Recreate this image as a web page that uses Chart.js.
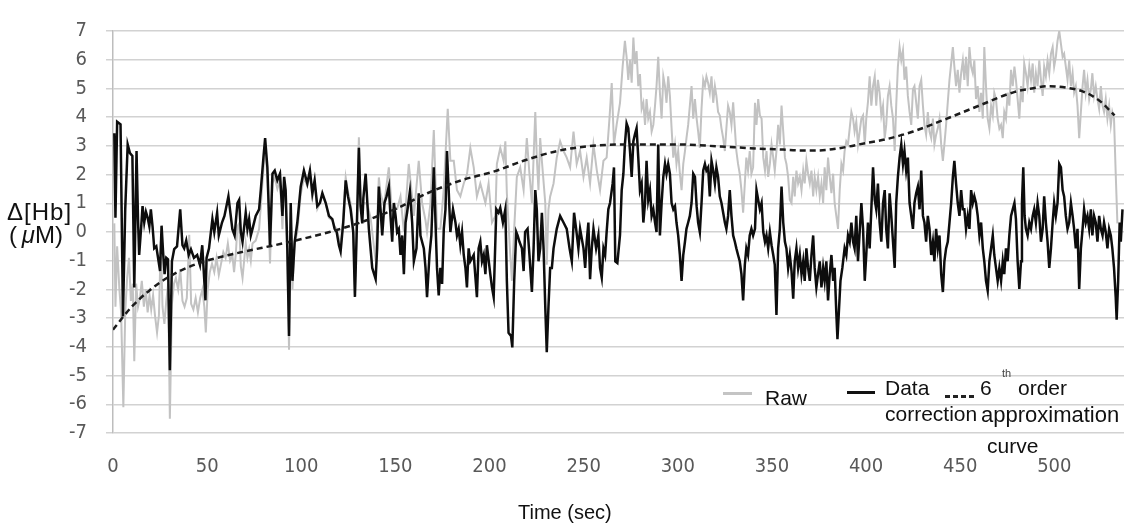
<!DOCTYPE html>
<html>
<head>
<meta charset="utf-8">
<script src="https://cdn.jsdelivr.net/npm/chart.js@4.4.0/dist/chart.umd.min.js"></script>
<style>
  body { margin: 0; background: #fff; }
  #wrap { position: relative; width: 1127px; height: 528px; font-family: "Liberation Sans", Arial, sans-serif; color: #111; }
  #wrap .t { position: absolute; white-space: nowrap; font-size: 21px; line-height: 24px; }
  .swatch { position: absolute; height: 3px; }
</style>
</head>
<body>
<div id="wrap">
  <canvas id="myChart" width="1127" height="528"></canvas>

  <div class="t" style="left:7px;top:200px;font-size:24px;letter-spacing:1px;">Δ[Hb]</div>
  <div class="t" style="left:9px;top:223px;font-size:24px;">(&thinsp;<i>μ</i>M)</div>
  <div class="t" style="left:518px;top:501px;font-size:20px;line-height:22px;">Time (sec)</div>

  <div class="swatch" style="left:723px;top:392px;width:29px;background:#c4c4c4;"></div>
  <div class="t" style="left:765px;top:386px;">Raw</div>
  <div class="swatch" style="left:847px;top:391px;width:28px;background:#111;"></div>
  <div class="t" style="left:885px;top:376px;">Data</div>
  <div class="t" style="left:885px;top:402px;">correction</div>
  <div class="swatch" style="left:945px;top:395px;width:30px;background:repeating-linear-gradient(to right,#222 0 5px,transparent 5px 8px);"></div>
  <div class="t" style="left:980px;top:376px;">6</div>
  <div class="t" style="left:1002px;top:367px;font-size:11px;line-height:12px;color:#444;">th</div>
  <div class="t" style="left:1018px;top:376px;">order</div>
  <div class="t" style="left:981px;top:403px;font-size:22px;">approximation</div>
  <div class="t" style="left:987px;top:434px;">curve</div>
</div>

<script>
// time (sec), value (uM) pairs
const rawPoints = [
  [0.7,0.3],[1.3,-2.6],[2.2,-0.5],[3.4,-2.0],[4.3,-2.8],[5.5,-6.1],[6.5,-2.8],[7.5,-1.6],[8.5,-0.9],[9.5,-2.4],
  [10.5,-1.8],[11.3,-4.5],[12.3,-1.8],[13.3,-2.6],[14.3,-2.3],[15.3,-1.7],[16.4,-2.6],[17.4,-2.0],[18.4,-2.8],[19.4,-2.2],
  [20.3,-2.7],[21.3,-2.2],[22.3,-2.9],[23.4,-3.5],[24.4,-2.9],[25.4,-0.3],[26.3,-2.6],[27.3,-3.2],[28.3,-2.4],[29.3,-1.8],
  [30.2,-6.5],[31.3,-2.5],[32.4,-1.8],[33.4,-1.6],[34.6,-2.0],[35.7,-1.3],[36.9,-2.4],[38.0,-2.6],[39.2,-2.3],[40.5,-0.1],
  [41.5,-2.5],[42.7,-2.7],[43.9,-2.3],[45.1,-2.8],[46.3,-2.3],[47.5,-2.0],[48.5,-2.6],[49.3,-3.5],[50.3,-2.0],[51.4,-1.4],
  [52.6,-1.1],[53.8,-1.4],[55.0,-0.9],[56.2,-1.5],[57.4,-1.1],[58.6,-0.7],[59.8,-0.9],[61.0,-0.4],[62.2,-1.0],[63.4,-0.8],
  [64.3,-1.4],[65.2,-0.8],[66.1,0.2],[67.0,0.3],[67.9,-1.2],[68.8,-1.6],[70.5,-0.4],[71.4,-0.9],[72.3,-0.6],[73.2,-1.0],
  [74.1,-0.4],[75.8,-0.3],[77.6,0.1],[78.5,0.9],[79.9,2.2],[80.8,3.0],[82.0,1.9],[83.4,-1.1],[84.7,1.7],[85.9,1.9],
  [87.3,1.5],[88.7,1.8],[90.0,0.1],[90.9,1.6],[91.7,1.1],[92.6,-1.0],[93.5,-4.1],[94.4,0.7],[95.3,-2.0],[96.5,-0.4],
  [97.9,0.0],[99.7,1.3],[101.4,1.9],[103.2,1.6],[104.6,2.0],[105.9,1.2],[107.1,1.7],[108.5,0.8],[109.9,1.0],[111.2,1.3],
  [113.0,1.0],[114.7,0.5],[116.5,0.4],[117.7,0.2],[118.8,0.1],[120.0,-0.2],[120.9,-0.4],[122.3,0.5],[123.6,1.9],[124.8,1.4],
  [126.2,1.0],[127.6,0.2],[128.5,-2.2],[129.4,0.1],[130.6,3.3],[131.5,1.2],[133.3,1.0],[135.0,1.0],[136.8,0.5],[138.6,-0.5],
  [139.5,-1.0],[141.2,1.9],[142.1,1.35],[143.9,0.9],[146.5,2.25],[148.3,0.6],[149.2,0.8],[150.9,0.8],[152.7,1.24],[154.5,0.0],
  [157.1,2.37],[158.9,1.2],[159.8,0.56],[162.4,2.48],[164.2,1.0],[166.0,0.4],[166.8,0.0],[168.6,1.0],[170.4,3.55],[172.1,0.11],
  [173.9,0.11],[175.7,1.5],[177.8,4.29],[179.2,2.48],[181.0,2.48],[182.7,1.46],[184.5,1.24],[186.3,1.69],[188.0,2.0],[189.8,2.93],
  [191.6,2.25],[193.3,1.24],[195.1,1.69],[197.8,1.01],[199.5,1.69],[201.3,0.33],[203.1,0.56],[203.9,2.37],[205.7,2.93],[207.5,2.48],
  [208.4,3.16],[209.2,1.35],[211.0,-0.8],[211.9,-1.7],[213.1,0.11],[214.5,1.92],[216.3,2.25],[218.1,1.46],[219.8,3.27],[221.2,2.03],
  [222.5,1.01],[223.4,2.59],[224.3,4.18],[225.1,2.59],[226.0,1.46],[226.9,3.27],[227.8,2.48],[229.6,1.01],[230.4,-1.14],[231.3,0.79],
  [232.2,1.24],[234.0,1.69],[235.7,2.59],[237.5,3.16],[239.3,2.82],[241.0,2.59],[242.8,2.25],[244.6,3.5],[246.3,2.37],[248.1,2.82],
  [249.9,1.92],[251.6,2.59],[253.4,1.69],[255.2,3.05],[257.0,2.14],[258.7,1.46],[260.5,2.48],[262.2,2.59],[263.7,3.95],[264.9,5.19],
  [266.1,3.05],[267.5,3.73],[269.3,4.5],[270.7,5.76],[271.9,6.66],[272.8,6.1],[273.7,5.3],[274.6,6.0],[275.5,5.2],[276.4,6.77],
  [277.2,5.85],[278.1,6.3],[279.0,5.08],[279.9,5.5],[280.8,4.29],[281.7,4.5],[282.6,3.73],[283.4,4.63],[284.3,3.95],[285.2,4.18],
  [286.1,3.5],[287.0,3.73],[287.9,4.4],[288.7,5.08],[289.6,6.1],[290.5,4.85],[291.4,3.95],[292.3,5.42],[293.2,5.08],[294.0,4.5],
  [294.9,5.42],[295.8,4.74],[296.7,3.61],[297.6,2.59],[298.5,3.05],[299.3,2.37],[300.2,2.82],[301.1,2.03],[302.0,1.46],[302.9,2.37],
  [303.8,2.82],[304.6,3.27],[305.5,3.73],[306.4,4.4],[307.3,5.08],[308.2,3.95],[309.1,4.63],[310.0,3.95],[310.8,3.5],[311.7,2.93],
  [312.6,4.29],[313.5,5.3],[314.4,5.08],[315.2,5.42],[316.1,5.19],[317.0,4.85],[317.9,5.42],[318.8,4.5],[319.7,5.08],[320.5,4.74],
  [321.4,4.18],[322.3,4.06],[323.2,3.61],[324.1,3.27],[325.0,2.82],[325.8,3.61],[326.7,4.4],[327.6,4.18],[328.5,3.73],[329.4,4.52],
  [330.3,3.61],[331.1,2.82],[332.0,2.37],[332.9,2.03],[333.8,1.46],[334.7,0.67],[335.6,1.69],[336.4,2.59],[337.3,2.14],[338.2,2.82],
  [339.1,2.03],[340.0,2.25],[341.0,4.5],[341.8,3.73],[342.7,4.63],[343.6,4.06],[344.5,3.95],[345.4,2.59],[346.3,2.14],[347.1,2.82],
  [348.0,1.92],[348.9,2.37],[349.8,3.05],[350.7,2.59],[351.5,2.14],[352.4,2.82],[353.3,3.73],[354.2,3.05],[355.1,4.4],[356.0,3.5],
  [356.9,2.59],[357.7,2.37],[358.6,1.92],[359.5,1.12],[360.4,1.01],[361.3,1.92],[362.1,1.24],[363.0,2.14],[363.9,1.69],[364.8,1.92],
  [365.7,1.46],[366.6,2.14],[367.4,1.69],[368.3,2.48],[369.2,2.03],[370.1,1.69],[371.0,2.14],[371.9,1.24],[372.7,1.92],[373.6,1.46],
  [374.5,1.92],[375.4,1.24],[376.3,1.69],[377.2,1.01],[378.0,2.25],[378.9,1.46],[379.8,2.59],[380.7,1.92],[381.6,1.35],[382.5,2.03],
  [383.3,1.01],[384.2,0.56],[385.1,0.11],[386.0,1.46],[386.9,2.37],[387.8,2.14],[388.6,2.82],[389.5,3.16],[390.4,3.05],[391.3,3.61],
  [392.2,4.18],[393.1,3.95],[393.9,3.5],[394.8,3.84],[395.7,3.05],[396.6,3.5],[397.5,3.95],[398.4,4.06],[399.3,3.05],[400.1,3.95],
  [401.0,4.52],[401.9,5.42],[402.8,4.4],[403.7,5.08],[404.6,5.42],[405.4,4.4],[406.3,5.3],[407.2,4.85],[408.1,4.06],[409.0,4.4],
  [409.9,3.27],[410.7,3.73],[411.6,4.74],[412.5,5.08],[413.4,4.4],[414.3,3.95],[415.2,2.82],[416.0,4.4],[416.9,5.76],[417.8,6.44],
  [418.7,5.98],[419.6,6.32],[420.4,5.3],[421.3,5.76],[422.2,4.74],[423.1,4.18],[424.0,3.73],[424.9,4.97],[425.7,5.08],[426.6,4.52],
  [427.5,3.95],[428.4,5.08],[429.3,5.3],[430.2,4.4],[431.0,3.73],[431.9,3.39],[432.8,4.18],[433.7,3.5],[434.6,3.27],[435.5,3.95],
  [436.3,3.05],[437.2,3.39],[438.1,3.61],[439.0,3.95],[439.9,3.05],[440.8,2.48],[441.6,3.05],[442.5,3.73],[443.4,4.52],[444.3,5.3],
  [445.2,5.87],[446.1,6.44],[446.9,5.76],[447.8,5.08],[448.7,5.65],[449.6,4.85],[450.5,5.53],[451.4,5.98],[452.2,5.3],[453.1,6.1],
  [454.0,5.08],[454.9,6.44],[455.8,5.76],[456.7,5.53],[457.5,5.98],[458.4,4.63],[459.3,5.08],[460.2,4.18],[461.1,4.85],[462.0,3.95],
  [462.8,6.44],[463.7,5.08],[464.6,3.95],[465.5,3.61],[466.4,4.4],[467.3,4.06],[468.1,4.85],[469.0,4.63],[469.9,3.95],[470.8,3.6],
  [471.7,3.73],[472.6,3.27],[473.4,4.18],[474.3,3.95],[475.2,4.85],[476.1,4.4],[477.0,5.65],[477.9,5.08],[478.8,5.76],[479.6,5.3],
  [480.5,4.63],[481.4,3.95],[482.3,5.08],[483.2,4.52],[484.0,5.87],[484.9,5.53],[485.8,5.08],[486.7,5.76],[487.6,5.3],[488.5,5.87],
  [489.3,4.85],[490.2,5.53],[491.1,5.08],[492.0,5.98],[492.9,5.3],[493.8,4.74],[494.6,5.76],[495.5,5.42],[496.4,5.98],[497.3,5.53],
  [498.2,6.21],[499.1,6.44],[499.9,5.76],[500.8,6.1],[501.7,6.66],[502.6,7.0],[503.5,6.55],[504.4,6.1],[505.2,6.21],[506.1,5.76],
  [507.0,5.3],[507.9,5.98],[508.8,5.08],[509.7,5.53],[510.5,4.85],[511.4,5.08],[512.3,4.4],[513.2,3.27],[514.1,4.18],[515.0,5.08],
  [515.8,5.65],[516.7,4.85],[517.6,5.3],[518.5,4.63],[519.4,4.97],[520.2,5.53],[521.1,4.74],[522.0,5.08],[522.9,4.63],[523.8,4.29],
  [524.7,5.08],[525.6,4.4],[526.4,4.18],[527.3,4.63],[528.2,3.95],[529.1,4.4],[530.0,3.73],[530.8,4.18],[531.7,3.95],[532.6,2.03],
  [533.5,0.3]
];

const correctionPoints = [
  [0.7,3.44],[1.3,0.5],[2.2,3.84],[4.0,3.75],[5.3,-2.94],[6.5,0.8],[7.8,3.05],[9.0,2.75],[10.3,2.65],[11.3,-1.93],
  [12.5,2.82],[13.3,0.4],[13.9,-0.8],[15.0,0.2],[15.7,0.9],[16.6,0.33],[17.5,0.7],[18.4,0.5],[19.3,0.2],[20.1,0.79],
  [21.0,0.2],[21.9,-0.57],[23.0,-0.5],[23.7,-0.8],[25.0,-1.36],[25.8,0.22],[26.6,-0.7],[27.4,-1.47],[28.3,-0.9],[29.2,-0.95],
  [30.2,-4.81],[31.3,-1.02],[32.5,-0.6],[34.0,-0.5],[35.7,0.79],[36.9,-0.46],[37.8,-0.57],[38.9,-0.3],[40.2,-0.8],[41.4,-0.6],
  [43.0,-0.9],[44.7,-0.8],[46.2,-1.15],[47.4,-0.46],[49.1,-2.38],[49.7,-0.9],[51.0,-0.57],[52.8,0.45],[53.8,0.0],[55.3,0.67],
  [56.2,-0.12],[57.9,0.33],[59.2,0.56],[61.3,1.24],[63.4,0.1],[64.6,-0.12],[66.1,1.01],[67.0,1.12],[67.9,0.0],[68.8,-0.34],
  [70.5,0.67],[71.4,0.11],[72.3,0.45],[73.2,-0.12],[74.1,0.11],[75.8,0.56],[77.6,0.79],[78.5,1.46],[79.9,2.59],[80.8,3.27],
  [82.0,2.25],[83.4,-0.46],[84.7,2.03],[85.9,2.14],[87.3,1.8],[88.7,2.03],[90.0,0.56],[90.9,1.92],[91.7,1.46],[92.6,-0.57],
  [93.5,-3.62],[94.4,1.01],[95.3,-1.7],[96.5,-0.34],[97.9,0.33],[99.7,1.58],[101.4,2.14],[103.2,1.69],[104.6,2.14],[105.9,1.35],
  [107.1,1.8],[108.5,0.9],[109.9,1.01],[111.2,1.35],[113.0,1.01],[114.7,0.56],[116.5,0.45],[117.7,0.11],[118.8,0.0],[120.0,-0.46],
  [120.9,-0.68],[122.3,0.33],[123.6,1.8],[124.8,1.24],[126.2,0.79],[127.6,0.0],[128.5,-2.26],[129.4,-0.12],[130.6,2.93],[131.5,0.9],
  [132.4,0.3],[133.0,1.2],[134.2,2.03],[135.9,0.11],[137.7,-1.25],[139.5,-1.64],[140.3,-0.57],[141.2,1.58],[142.1,0.79],[143.0,-0.12],
  [144.2,1.01],[145.3,1.24],[146.5,1.58],[147.4,0.56],[148.3,-0.34],[149.2,1.01],[150.1,0.56],[150.9,0.0],[151.8,0.11],[152.7,-0.8],
  [153.6,-0.12],[154.5,-1.47],[155.4,0.33],[156.2,0.67],[157.7,1.41],[158.9,0.33],[159.8,-1.02],[161.2,-0.57],[162.4,1.35],[163.3,-0.12],
  [165.1,-0.57],[166.0,-1.25],[166.8,-2.27],[168.1,-0.8],[169.1,-0.12],[170.4,2.25],[171.3,0.33],[172.1,-1.25],[173.0,-2.21],[173.9,-1.25],
  [174.8,-1.81],[175.7,0.11],[176.6,0.79],[177.4,2.82],[178.3,1.46],[179.2,0.0],[180.6,0.79],[181.9,0.33],[182.7,-0.12],[183.6,0.11],
  [184.5,-0.46],[185.4,0.0],[186.3,-0.8],[187.2,-1.25],[188.0,-1.93],[188.9,-0.57],[189.8,-1.02],[191.6,-0.8],[192.5,-1.58],[193.3,-2.27],
  [194.2,-0.57],[195.1,-0.34],[196.0,-1.02],[196.9,-0.8],[197.8,-1.47],[198.6,-0.46],[200.4,-1.47],[201.3,-1.93],[202.2,-2.27],[203.6,0.79],
  [204.8,0.67],[205.7,0.84],[207.1,0.33],[208.4,0.79],[209.2,-1.7],[210.1,-3.51],[211.4,-3.62],[212.1,-4.02],[213.1,-1.7],[214.2,0.0],
  [214.9,-0.12],[215.9,-0.34],[217.2,-0.57],[218.1,-1.36],[218.9,0.0],[220.2,0.11],[221.2,-0.8],[222.5,-2.09],[223.4,-0.57],[224.3,1.46],
  [225.1,0.79],[226.0,-1.02],[226.9,-0.57],[227.8,0.67],[228.7,-0.57],[229.6,-2.6],[230.4,-4.19],[231.3,-2.6],[232.2,-1.25],[233.1,-1.25],
  [234.0,-0.57],[235.7,0.11],[237.5,0.56],[239.3,0.33],[241.0,0.11],[242.5,-0.57],[243.7,-1.02],[244.9,0.67],[246.0,0.11],[247.2,-0.57],
  [248.1,0.11],[249.9,-0.57],[250.8,-1.25],[251.6,-0.34],[252.5,0.33],[253.4,-1.64],[254.3,-0.57],[255.2,0.11],[256.6,-0.57],[257.8,-0.12],
  [258.7,-1.25],[259.6,-1.59],[260.5,-0.57],[261.4,-0.8],[262.2,0.0],[263.1,0.79],[264.0,1.01],[265.4,1.69],[266.1,2.25],[266.8,-1.02],
  [267.9,-1.08],[269.3,-0.1],[270.2,1.46],[271.1,2.03],[271.9,3.05],[272.8,3.78],[273.7,3.61],[274.6,2.82],[275.5,1.92],[276.4,3.16],
  [277.2,3.39],[278.1,3.61],[279.0,2.59],[279.9,1.46],[280.8,1.69],[281.7,0.33],[282.6,1.01],[283.4,2.48],[284.3,1.12],[285.2,1.46],
  [286.1,0.56],[287.0,0.79],[287.9,0.33],[288.7,0.0],[289.6,3.05],[290.5,-0.12],[291.4,1.01],[292.3,1.92],[293.2,2.37],[294.0,2.03],
  [294.9,2.37],[295.8,2.03],[296.7,1.01],[297.6,0.79],[298.5,0.9],[299.3,0.33],[300.2,-0.12],[301.1,-0.8],[302.0,-1.7],[302.9,-0.8],
  [303.8,-0.34],[304.6,0.11],[305.5,0.33],[306.4,0.56],[307.3,1.01],[308.2,2.03],[309.1,1.92],[310.0,0.9],[310.8,0.33],[311.7,0.0],
  [312.6,1.01],[313.5,2.14],[314.4,2.37],[315.2,2.14],[316.1,2.25],[317.0,1.24],[317.9,2.48],[318.8,2.14],[319.7,1.69],[320.5,2.25],
  [321.4,1.92],[322.3,1.24],[323.2,1.01],[324.1,0.67],[325.0,0.33],[325.8,0.11],[326.7,0.56],[327.6,1.46],[328.5,0.56],[329.4,-0.12],
  [330.3,-0.34],[331.1,-0.57],[332.0,-0.8],[332.9,-1.02],[333.8,-1.47],[334.7,-2.38],[335.6,-1.14],[336.4,-0.57],[337.3,-0.8],[338.2,-0.12],
  [339.1,0.11],[340.0,-0.12],[341.0,0.11],[341.8,1.46],[342.7,1.12],[343.6,0.79],[344.5,1.01],[345.4,0.0],[346.3,-0.34],[347.1,-0.12],
  [348.0,-0.57],[348.9,0.0],[349.8,-0.46],[350.7,-0.8],[351.5,-1.14],[352.4,-2.89],[353.3,-0.57],[354.2,0.11],[355.1,1.58],[356.0,0.33],
  [356.9,-0.34],[357.7,-0.57],[358.6,-1.25],[359.5,-0.8],[360.4,-1.36],[361.3,-2.32],[362.1,-1.02],[363.0,-0.57],[363.9,-1.25],[364.8,-0.8],
  [365.7,-1.47],[366.6,-1.02],[367.4,-1.7],[368.3,-0.57],[369.2,-1.25],[370.1,-1.7],[371.0,-0.8],[371.9,-0.12],[372.7,-1.25],[373.6,-1.93],
  [374.5,-1.47],[375.4,-1.02],[376.3,-1.93],[377.2,-1.25],[378.0,-1.7],[378.9,-1.02],[379.8,-2.38],[380.7,-1.47],[381.6,-0.8],[382.5,-1.7],
  [383.3,-1.25],[384.2,-2.83],[384.8,-3.73],[385.6,-2.72],[386.4,-1.7],[387.4,-1.25],[388.6,-0.57],[389.5,-0.8],[390.4,-0.12],[391.3,-0.34],
  [392.2,0.33],[393.1,-0.34],[393.9,-0.57],[394.8,0.56],[395.7,-1.02],[396.6,0.0],[397.5,1.01],[398.4,0.11],[399.3,-1.7],[400.1,-0.8],
  [401.0,0.33],[401.9,-0.57],[402.8,0.79],[403.7,2.25],[404.6,1.12],[405.4,0.79],[406.3,1.69],[407.2,0.33],[408.1,-0.34],[409.0,1.01],
  [409.9,1.46],[410.7,0.11],[411.6,-0.57],[412.5,1.35],[413.4,0.56],[414.3,-0.34],[415.2,-1.25],[416.0,1.01],[416.9,1.92],[417.8,2.59],
  [418.7,3.05],[419.6,2.37],[420.4,2.82],[421.3,2.14],[422.2,2.59],[423.1,1.01],[424.0,0.56],[424.9,0.11],[425.7,1.01],[426.6,1.35],
  [427.5,1.58],[428.4,0.79],[429.3,2.14],[430.2,0.56],[431.0,0.33],[431.9,-0.34],[432.8,0.56],[433.7,0.11],[434.6,-0.8],[435.5,-0.34],
  [436.3,-1.02],[437.2,0.11],[438.1,-0.57],[439.0,-0.12],[439.9,-1.47],[440.8,-2.09],[441.6,-1.02],[442.5,-0.57],[443.4,-0.34],[444.3,0.33],
  [445.2,1.01],[446.1,1.92],[446.9,2.48],[447.8,1.69],[448.7,1.01],[449.6,0.56],[450.5,1.46],[451.4,0.79],[452.2,0.79],[453.1,0.11],
  [454.0,0.56],[454.9,0.11],[455.8,1.46],[456.7,1.01],[457.5,1.24],[458.4,1.01],[459.3,0.56],[460.2,-0.12],[461.1,0.33],[462.0,-0.57],
  [462.8,-1.02],[463.7,-1.7],[464.6,-2.04],[465.5,-1.02],[466.4,-0.57],[467.3,-0.12],[468.1,-0.8],[469.0,-1.25],[469.9,-1.7],[470.8,-1.25],
  [471.7,-1.7],[472.6,-1.02],[473.4,-1.47],[474.3,-0.57],[475.2,-1.02],[476.1,-0.12],[477.0,0.56],[477.9,0.79],[478.8,1.01],[479.6,0.45],
  [480.5,-1.02],[481.4,-1.98],[482.3,-1.02],[482.8,1.01],[483.5,2.25],[484.2,0.56],[484.9,0.11],[485.8,-0.12],[486.7,0.33],[487.6,0.11],
  [488.5,0.56],[489.3,0.79],[490.2,0.33],[491.1,1.01],[492.0,0.56],[492.9,-0.34],[493.8,0.11],[494.6,1.24],[495.5,0.33],[496.4,-0.34],
  [497.3,-1.25],[498.2,-0.57],[499.1,0.33],[499.9,1.01],[500.8,0.56],[501.7,1.01],[502.6,2.37],[503.5,2.25],[504.4,1.46],[505.2,1.24],
  [506.1,0.56],[507.0,0.11],[507.9,0.33],[508.8,1.01],[509.7,0.56],[510.5,0.11],[511.4,-0.57],[512.3,0.11],[513.2,-1.98],[514.1,-0.57],
  [515.0,0.11],[515.8,0.79],[516.7,0.33],[517.6,0.56],[518.5,0.11],[519.4,0.79],[520.2,-0.12],[521.1,0.56],[522.0,0.33],[522.9,-0.34],
  [523.8,0.56],[524.7,0.11],[525.6,-0.12],[526.4,0.33],[527.3,0.0],[528.2,-0.57],[529.1,0.11],[530.0,-0.12],[530.8,-0.57],[531.7,-1.25],
  [532.6,-2.27],[533.1,-3.05],[533.9,-1.7],[534.7,0.33],[535.3,-0.34],[536.2,0.79]
];

const fitPoints = [
  [0,-3.4],[10,-2.6],[20,-2.0],[30,-1.55],[45,-1.1],[65,-0.75],[90,-0.4],[115,0.0],[130,0.3],[150,0.8],
  [167,1.35],[185,1.8],[203,2.12],[218,2.48],[236,2.82],[253,2.99],[272,3.05],[300,3.05],[322,2.98],[341,2.91],
  [356,2.87],[365,2.84],[374,2.84],[382,2.88],[391,2.98],[400,3.1],[410,3.22],[425,3.5],[443,3.95],[460,4.4],
  [479,4.88],[488,5.0],[497,5.08],[506,5.03],[515,4.9],[524,4.57],[532,4.06]
];

const xTicks = [0, 50, 100, 150, 200, 250, 300, 350, 400, 450, 500];
const yMin = -7, yMax = 7;

const toXY = (pts) => pts.map(p => ({ x: p[0], y: p[1] }));
const tickFont = { family: "'Liberation Sans Narrow', 'DejaVu Sans Condensed', sans-serif", size: 20 };

const ctx = document.getElementById("myChart");
new Chart(ctx, {
  type: "line",
  data: {
    datasets: [
      {
        label: "Raw",
        data: toXY(rawPoints),
        borderColor: "#c2c2c2",
        borderWidth: 2,
        pointRadius: 0,
        order: 3,
      },
      {
        label: "Data correction",
        data: toXY(correctionPoints),
        borderColor: "#0d0d0d",
        borderWidth: 2.5,
        pointRadius: 0,
        order: 2,
      },
      {
        label: "6th order approximation curve",
        data: toXY(fitPoints),
        borderColor: "#1c1c1c",
        borderWidth: 2.5,
        borderDash: [6, 4],
        pointRadius: 0,
        cubicInterpolationMode: "monotone",
        order: 1,
      },
    ],
  },
  options: {
    responsive: false,
    animation: false,
    layout: { padding: { top: 20, right: 3, left: 0, bottom: 0 } },
    plugins: { legend: { display: false }, tooltip: { enabled: false } },
    scales: {
      x: {
        type: "linear",
        min: 0,
        max: 537,
        grid: { display: false, drawTicks: false },
        border: { display: false },
        ticks: { color: "#595959", font: tickFont, padding: 22, maxRotation: 0, autoSkip: false },
        afterBuildTicks: (s) => { s.ticks = xTicks.map(v => ({ value: v })); },
        afterFit: (s) => { s.height = 95; },
      },
      y: {
        min: yMin,
        max: yMax,
        grid: { color: "#d2d2d2", lineWidth: 1.5, tickLength: 7 },
        border: { color: "#bdbdbd", width: 1.5 },
        ticks: { stepSize: 1, color: "#595959", font: tickFont, padding: 19 },
        afterFit: (s) => { s.width = 113; },
      },
    },
  },
});
</script>
</body>
</html>
